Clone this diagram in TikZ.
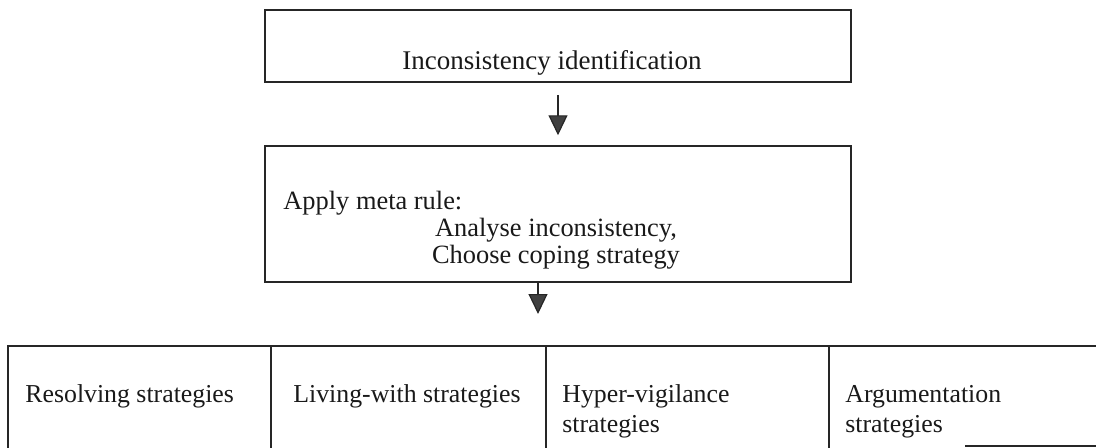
\documentclass[tikz,border=0pt]{standalone}
\usepackage{fontspec}
\setmainfont{Liberation Serif}
\usetikzlibrary{arrows.meta}
\begin{document}
\begin{tikzpicture}[x=0.5pt,y=-0.5pt,
  box/.style={draw=black!85, line width=0.75pt, inner sep=0pt, rectangle},
  cell/.style={draw=black!85, line width=0.75pt, inner sep=0pt, rectangle,
               minimum height=52pt, anchor=north west},
  txt/.style={inner sep=0pt, text=black!90, font=\fontsize{13.2pt}{13.5pt}\selectfont},
  celltxt/.style={inner sep=0pt, text=black!90, align=left,
                  font=\fontsize{12.9pt}{15pt}\selectfont},
  flow/.style={draw=black!85, line width=0.6pt,
               -{Triangle[width=9.5pt,length=10pt,fill=black!75]}}]
\useasboundingbox (0,0) rectangle (1096,447);

% upper process boxes
\node[box, minimum width=293pt, minimum height=36pt] (ident) at (558,46) {};
\node[txt, font=\fontsize{13.5pt}{14pt}\selectfont, anchor=base west] (identtext)
  at (402,69) {Inconsistency identification};

\node[box, minimum width=293pt, minimum height=68pt] (meta) at (558,214) {};
\node[txt, anchor=base west] (metahead) at (283,209) {Apply meta rule:};
% base anchor of a multi-line node sits on its last line
\node[txt, anchor=base, align=center] (metabody) at (556,263)
  {Analyse inconsistency,\\Choose coping strategy};

% strategy table
\node[cell, minimum width=131.5pt] (c1) at (7,345) {};
\node[cell, minimum width=137.5pt] (c2) at (270,345) {};
\node[cell, minimum width=141.5pt] (c3) at (545,345) {};
\node[cell, minimum width=136pt]   (c4) at (828,345) {};
\draw[draw=black!85, line width=0.75pt] (965,446) -- (1096,446);

\node[celltxt, anchor=base west] (t1) at (25,402) {Resolving strategies};
\node[celltxt, anchor=base west] (t2) at (293,402) {Living-with strategies};
\node[celltxt, anchor=base west] (t3) at (562,432) {Hyper-vigilance\\strategies};
\node[celltxt, anchor=base west] (t4) at (845,432) {Argumentation\\strategies};

% connectors
\coordinate (axis2) at (538,0);
\draw[flow] ([yshift=-6pt]ident.south) -- ([yshift=5pt]meta.north);
\draw[flow] (meta.south -| axis2) -- ([yshift=15.5pt]c2.north -| axis2);
\end{tikzpicture}
\end{document}
